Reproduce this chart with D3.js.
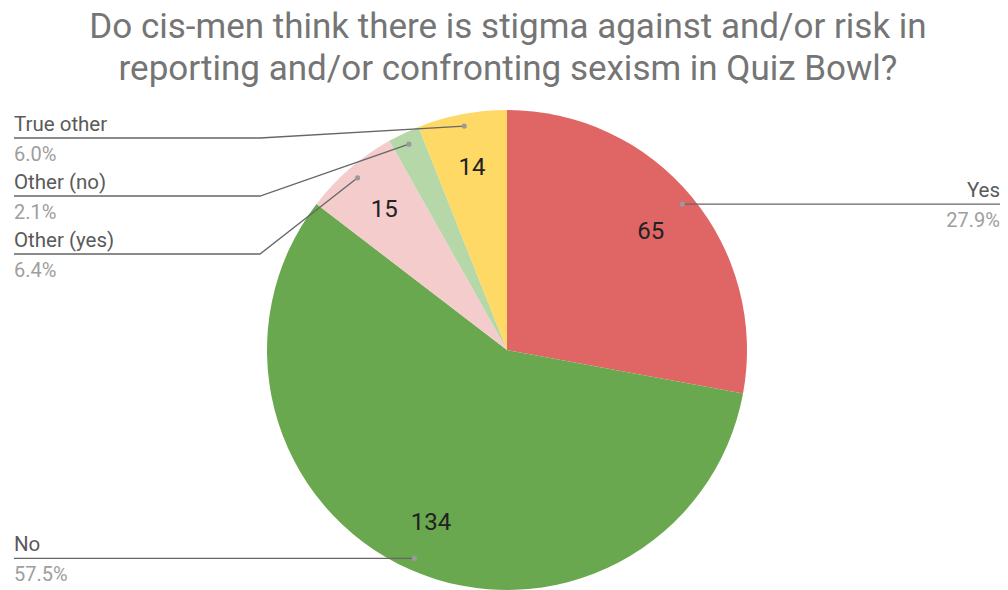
<!DOCTYPE html>
<html>
<head>
<meta charset="utf-8">
<script src="https://cdn.jsdelivr.net/npm/d3@7"></script>
<style>
  html, body { margin: 0; padding: 0; background: #fff; }
  svg { display: block; font-family: Roboto, "Noto Sans", sans-serif; }
</style>
</head>
<body>
<svg id="chart" width="1008" height="590"></svg>
<script>
// ---- data ----
const titleLines = [
  "Do cis-men think there is stigma against and/or risk in",
  "reporting and/or confronting sexism in Quiz Bowl?"
];
const categories = ["Yes", "No", "Other (yes)", "Other (no)", "True other"];
const counts = [65, 134, 15, 5, 14];
const colors = ["#e06666", "#6aa84f", "#f4cccc", "#b6d7a8", "#ffd966"];

// ---- layout ----
const W = 1008, H = 590;
const cx = 507, cy = 350, R = 240;
const svg = d3.select("#chart");

// title
const title = svg.append("g").attr("fill", "#757575")
  .attr("font-size", 35).attr("text-anchor", "middle");
title.selectAll("text").data(titleLines).join("text")
  .attr("x", 508).attr("y", (d, i) => 38 + i * 42).text(d => d);

const data = categories.map((c, i) => ({ name: c, value: counts[i], color: colors[i] }));
const total = d3.sum(counts);
const pie = d3.pie().sort(null).value(d => d.value);
const arcs = pie(data);
const arc = d3.arc().innerRadius(0).outerRadius(R);
const labelArc = d3.arc().innerRadius(R * 0.78).outerRadius(R * 0.78);
const dotArc = d3.arc().innerRadius(R * 0.95).outerRadius(R * 0.95);

const g = svg.append("g").attr("transform", `translate(${cx},${cy})`);
g.selectAll("path.slice").data(arcs).join("path")
  .attr("class", "slice")
  .attr("d", arc)
  .attr("fill", d => d.data.color);

// value labels only on slices big enough to hold them
g.selectAll("text.val").data(arcs.filter(d => d.value / total >= 0.05)).join("text")
  .attr("class", "val")
  .attr("transform", d => `translate(${labelArc.centroid(d)})`)
  .attr("text-anchor", "middle")
  .attr("dy", "0.36em")
  .attr("font-size", 24)
  .attr("fill", "#222")
  .text(d => d.data.value);

// leader labels
const fmt = d3.format(".1%");
const items = arcs.map(d => {
  const [dx, dy] = dotArc.centroid(d);
  return { d, px: cx + dx, py: cy + dy, side: dx >= 0 ? "right" : "left" };
});
const minY = 138, gap = 58;
["left", "right"].forEach(side => {
  const s = items.filter(it => it.side === side).sort((a, b) => a.py - b.py);
  let prev = -Infinity;
  s.forEach(it => {
    it.ly = Math.max(it.py, minY, prev + gap);
    prev = it.ly;
  });
});

const lab = svg.append("g");
items.forEach(it => {
  const left = it.side === "left";
  const xEdge = left ? 14 : 1000;
  const xElbow = left ? 260 : W - 260;
  let pts;
  if (Math.abs(it.ly - it.py) < 1) pts = [[xEdge, it.ly], [it.px, it.py]];
  else pts = [[xEdge, it.ly], [xElbow, it.ly], [it.px, it.py]];
  lab.append("path")
    .attr("d", d3.line()(pts))
    .attr("fill", "none")
    .attr("stroke", "#666")
    .attr("stroke-width", 1.3);
  lab.append("circle")
    .attr("cx", it.px).attr("cy", it.py).attr("r", 2.6)
    .attr("fill", "#9a9a9a");
  lab.append("text")
    .attr("x", xEdge).attr("y", it.ly - 7)
    .attr("text-anchor", left ? "start" : "end")
    .attr("font-size", 20.5).attr("fill", "#5a5a5a")
    .text(it.d.data.name);
  lab.append("text")
    .attr("x", xEdge).attr("y", it.ly + 23)
    .attr("text-anchor", left ? "start" : "end")
    .attr("font-size", 20).attr("fill", "#9e9e9e")
    .text(fmt(it.d.data.value / total));
});
</script>
</body>
</html>
